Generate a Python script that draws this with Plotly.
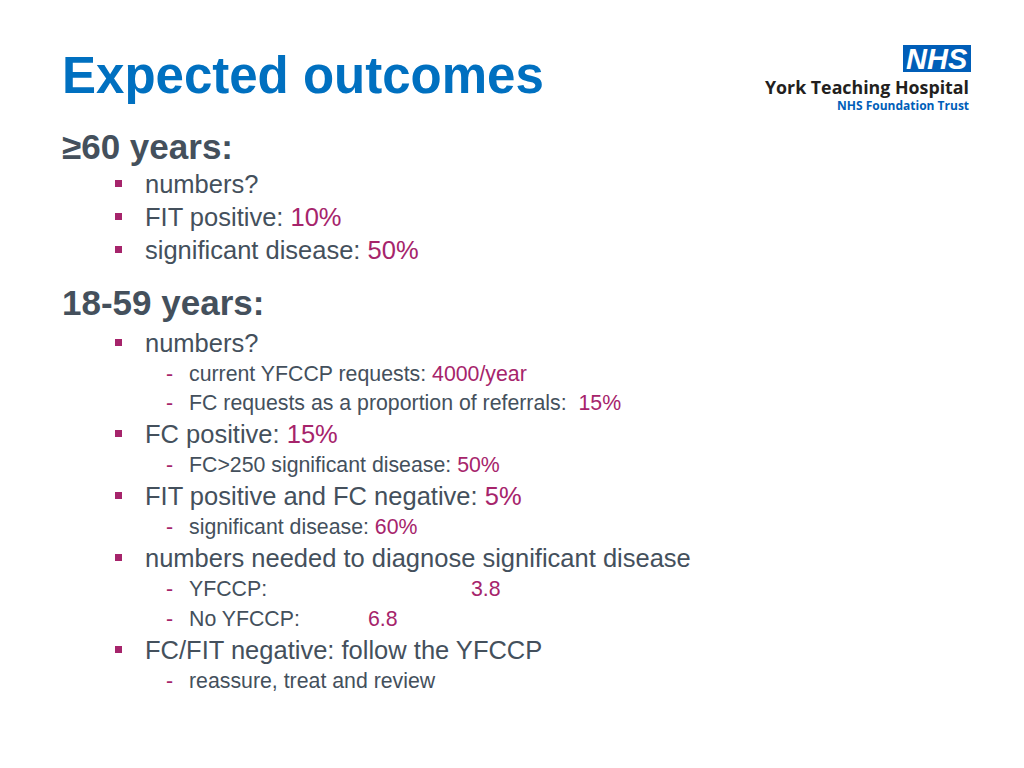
import plotly.graph_objects as go

# ---------------- data (text content of the slide) ----------------
title = "Expected outcomes"
headings = ["≥60 years:", "18-59 years:"]
levels = [1, 1, 1, 1, 2, 2, 1, 2, 1, 2, 1, 2, 2, 1, 2]
labels = [
    "numbers?",
    "FIT positive: ",
    "significant disease: ",
    "numbers?",
    "current YFCCP requests: ",
    "FC requests as a proportion of referrals:  ",
    "FC positive: ",
    "FC&gt;250 significant disease: ",
    "FIT positive and FC negative: ",
    "significant disease: ",
    "numbers needed to diagnose significant disease",
    "YFCCP:",
    "No YFCCP:",
    "FC/FIT negative: follow the YFCCP",
    "reassure, treat and review",
]
values = ["", "10%", "50%", "", "4000/year", "15%", "15%", "50%", "5%", "60%",
          "", "3.8", "6.8", "", ""]
logo_lines = ["NHS", "York Teaching Hospital", "NHS Foundation Trust"]

# ---------------- layout constants (pixels) ----------------
W, H = 1024, 768
OFF = 8  # page (body margin) offset compensation
heading_y = [146, 303]
line_y = [184, 217, 250, 343, 374, 403, 434, 465, 496, 527, 558, 589, 619, 650, 681]
tab_x = {11: 471, 12: 368}

BLUE = "#0070C0"
GREY = "#44505C"
PINK = "#A6246B"
NHSBLUE = "#005EB8"
FONT = "Liberation Sans, Arial, sans-serif"


def X(px):
    return (px - OFF) / W


def Y(py):
    return 1 - (py - OFF) / H


fig = go.Figure()
ann = []
shapes = []

ann.append(dict(x=X(60), y=Y(76), text=f"<b>{title}</b>", showarrow=False,
                xanchor="left", yanchor="middle",
                font=dict(family=FONT, size=51, color=BLUE)))
for h, yy in zip(headings, heading_y):
    ann.append(dict(x=X(60), y=Y(yy), text=f"<b>{h}</b>", showarrow=False,
                    xanchor="left", yanchor="middle",
                    font=dict(family=FONT, size=35, color=GREY)))

for i, (lv, lab, val) in enumerate(zip(levels, labels, values)):
    yy = line_y[i]
    if lv == 1:
        size, tx = 25.5, 143
        shapes.append(dict(type="rect", xref="paper", yref="paper",
                           x0=X(115), x1=X(122), y0=Y(yy - 4), y1=Y(yy + 3),
                           fillcolor=PINK, line=dict(width=0)))
    else:
        size, tx = 21.3, 187
        ann.append(dict(x=X(164), y=Y(yy), text="-", showarrow=False,
                        xanchor="left", yanchor="middle",
                        font=dict(family=FONT, size=size, color=PINK)))
    if i in tab_x:
        txt = lab
        ann.append(dict(x=X(tab_x[i] - 2), y=Y(yy), text=val, showarrow=False,
                        xanchor="left", yanchor="middle",
                        font=dict(family=FONT, size=size, color=PINK)))
    else:
        txt = lab.replace("  ", "&nbsp; ")
        if val:
            txt += f"<span style='color:{PINK}'>{val}</span>"
    ann.append(dict(x=X(tx), y=Y(yy), text=txt, showarrow=False,
                    xanchor="left", yanchor="middle",
                    font=dict(family=FONT, size=size, color=GREY)))

# logo
shapes.append(dict(type="rect", xref="paper", yref="paper",
                   x0=X(903), x1=X(971), y0=Y(72), y1=Y(45),
                   fillcolor=NHSBLUE, line=dict(width=0)))
ann.append(dict(x=X(937), y=Y(59), text=f"<b><i>{logo_lines[0]}</i></b>", showarrow=False,
                xanchor="center", yanchor="middle",
                font=dict(family="Liberation Sans, Arial", size=29, color="white")))
ann.append(dict(x=X(971), y=Y(87), text=f"<b>{logo_lines[1]}</b>", showarrow=False,
                xanchor="right", yanchor="middle",
                font=dict(family="Open Sans, sans-serif", size=17.8, color="#231F20")))
ann.append(dict(x=X(971), y=Y(105.5), text=f"<b>{logo_lines[2]}</b>", showarrow=False,
                xanchor="right", yanchor="middle",
                font=dict(family="Open Sans, sans-serif", size=12, color=NHSBLUE)))

for a in ann:
    a["xref"] = "paper"
    a["yref"] = "paper"

fig.update_layout(
    width=W, height=H,
    margin=dict(l=0, r=0, t=0, b=0),
    paper_bgcolor="white", plot_bgcolor="white",
    xaxis=dict(visible=False, range=[0, 1]),
    yaxis=dict(visible=False, range=[0, 1]),
    annotations=ann, shapes=shapes, showlegend=False,
)
fig.write_html("out.html")
